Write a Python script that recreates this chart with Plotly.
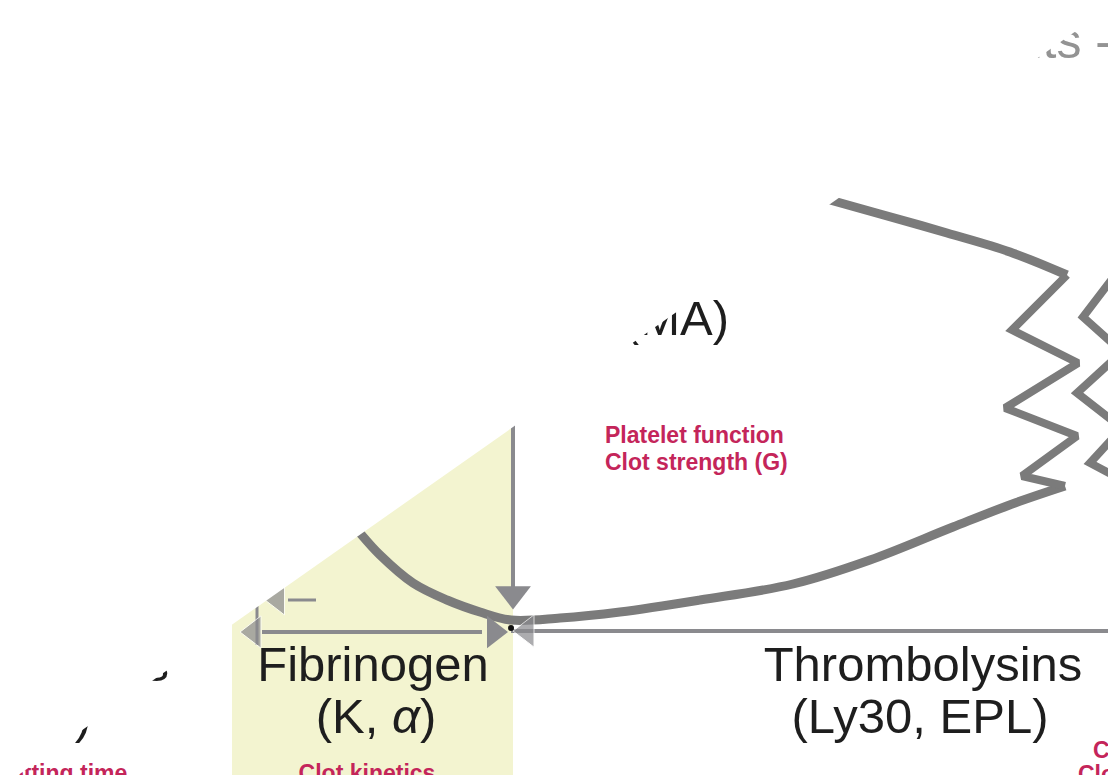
import plotly.graph_objects as go

# ---- diagram data (pixel-like diagram units, y grows downward) ----
k_phase_x = [232, 513, 513, 232]
k_phase_y = [250, 250, 775, 775]

# lower tracing: alpha curve through the split point and the rising lower branch
lower_x = [318, 340, 360, 380, 413, 447, 480, 511, 560, 620, 700, 793, 870, 953, 1015, 1065]
lower_y = [470, 508, 533, 555, 583, 600, 612, 620, 618, 612, 600, 584, 560, 527, 503, 486]

# upper tracing branch
upper_x = [790, 830, 880, 947, 1010, 1067]
upper_y = [188, 200, 214, 233, 252, 275]

# fracture (zig-zag) edges
zig1_x = [1067, 1012, 1078, 1005, 1077, 1022, 1065]
zig1_y = [275, 330, 363, 408, 436, 476, 486]
zig2_x = [1125, 1083, 1122, 1077, 1122, 1090, 1122]
zig2_y = [262, 317, 352, 393, 428, 463, 480]

# baseline and measurement arrows
baseline_x = [511, 1108]
baseline_y = [631, 631]
k_arrow_x = [262, 482]
k_arrow_y = [632, 632]
r_arrow_x = [288, 316]
r_arrow_y = [600, 600]
r_tick_x = [257, 257]
r_tick_y = [606, 645]
ma_line_x = [513, 513]
ma_line_y = [280, 590]
split_point = (511, 628)

# arrow heads
head_down_x, head_down_y = [513], [594]
head_left_x, head_left_y = [254, 527, 278], [632, 631, 600]
head_right_x, head_right_y = [494], [632]

# labels
big_labels = ["Fibrinogen", "(K, <i>α</i>)", "Thrombolysins", "(Ly30, EPL)"]
big_x = [373, 376, 923, 920]
big_y = [669, 721, 669, 721]

right_aligned_labels = ["(MA)", "Enzymes", "(R)"]
right_aligned_x = [729, 169, 91]
right_aligned_y = [323, 669, 721]

red_left_labels = ["Platelet function", "Clot strength (G)", "Clot lysis", "Clot stability"]
red_left_x = [605, 605, 1093, 1078]
red_left_y = [437, 464, 752, 776]

red_center_labels = ["Clot kinetics", "Clotting time"]
red_center_x = [367, 57]
red_center_y = [775, 775]

title_text = "Components -"
title_x, title_y = [1112], [45]

CURVE = "#7b7b7b"
ARROW = "#8a8a8e"
RED = "#c4255a"
FONT = "Liberation Sans, Arial, sans-serif"

fig = go.Figure()

fig.add_trace(go.Scatter(x=k_phase_x, y=k_phase_y, fill="toself", mode="lines",
                         fillcolor="#f3f4d0", line=dict(width=0), hoverinfo="skip"))

def seg(x, y, w, c, shape="linear"):
    fig.add_trace(go.Scatter(x=x, y=y, mode="lines",
                             line=dict(color=c, width=w, shape=shape),
                             hoverinfo="skip"))

seg(baseline_x, baseline_y, 4, ARROW)
seg(k_arrow_x, k_arrow_y, 4, ARROW)
seg(r_arrow_x, r_arrow_y, 3, ARROW)
seg(r_tick_x, r_tick_y, 3, ARROW)
seg(ma_line_x, ma_line_y, 4, ARROW)

seg(lower_x, lower_y, 9, CURVE, "spline")
seg(upper_x, upper_y, 9, CURVE, "spline")
seg(zig1_x, zig1_y, 8, CURVE)
seg(zig2_x, zig2_y, 8, CURVE)

fig.add_trace(go.Scatter(x=head_down_x, y=head_down_y, mode="markers",
                         marker=dict(symbol="triangle-down", size=31, color=ARROW)))
fig.add_trace(go.Scatter(x=head_left_x, y=head_left_y, mode="markers",
                         marker=dict(symbol="triangle-left", size=[28, 28, 26], color=ARROW)))
fig.add_trace(go.Scatter(x=head_right_x, y=head_right_y, mode="markers",
                         marker=dict(symbol="triangle-right", size=28, color=ARROW)))
fig.add_trace(go.Scatter(x=[split_point[0]], y=[split_point[1]], mode="markers",
                         marker=dict(size=6, color="#111111")))

fig.add_trace(go.Scatter(x=big_x, y=big_y, text=big_labels, mode="text",
                         textposition="middle center",
                         textfont=dict(family=FONT, size=49, color="#1e1e1e")))
fig.add_trace(go.Scatter(x=right_aligned_x, y=right_aligned_y, text=right_aligned_labels,
                         mode="text", textposition="middle left",
                         textfont=dict(family=FONT, size=49, color="#1e1e1e")))
fig.add_trace(go.Scatter(x=red_left_x, y=red_left_y, text=red_left_labels, mode="text",
                         textposition="middle right",
                         textfont=dict(family=FONT, size=23, color=RED, weight="bold")))
fig.add_trace(go.Scatter(x=red_center_x, y=red_center_y, text=red_center_labels, mode="text",
                         textposition="middle center",
                         textfont=dict(family=FONT, size=23, color=RED, weight="bold")))
fig.add_trace(go.Scatter(x=title_x, y=title_y, text=[title_text], mode="text",
                         textposition="middle left",
                         textfont=dict(family=FONT, size=50, color="#939393")))

# white mask over the upper-left triangle of the photographed slide
fig.add_shape(type="path", xref="x", yref="y", layer="above",
              path="M -30,809 L 1140,-14 L 1140,-40 L -30,-40 Z",
              fillcolor="white", line=dict(width=0))

fig.update_layout(
    width=1108, height=775,
    margin=dict(l=0, r=0, t=0, b=0),
    paper_bgcolor="white", plot_bgcolor="white",
    showlegend=False,
    xaxis=dict(range=[0, 1108], visible=False, fixedrange=True),
    yaxis=dict(range=[775, 0], visible=False, fixedrange=True),
)

fig.write_html("out.html", config={"displayModeBar": False, "staticPlot": True},
               post_script="document.body.style.margin='0';document.body.style.overflow='hidden';")
